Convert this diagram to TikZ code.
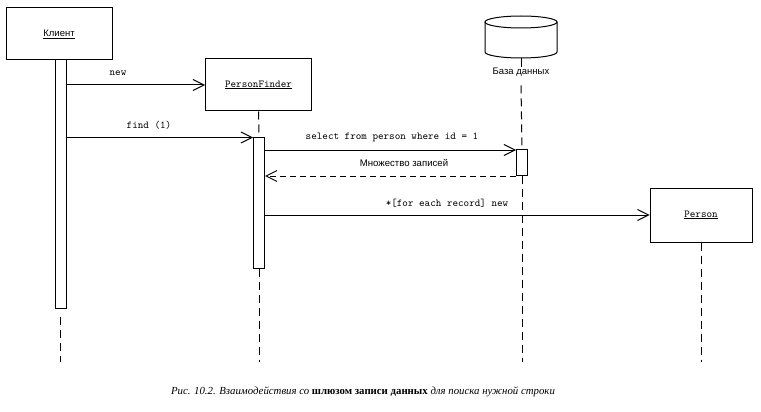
\documentclass[tikz,border=0pt]{standalone}
\usepackage{fontspec}
\setmainfont{Liberation Serif}
\setsansfont{Liberation Sans}
\usetikzlibrary{arrows.meta}
\tikzset{
  obj/.style={draw, line width=1pt, rectangle, inner sep=0pt},
  bar/.style={draw, line width=1pt, fill=white, rectangle, inner sep=0pt, minimum width=11pt},
  life/.style={line width=1pt, dash pattern=on 8pt off 5pt},
  msg/.style={line width=1pt, -{Straight Barb[length=11pt,width=11pt,line width=1pt]}},
  ret/.style={msg, dash pattern=on 6pt off 4pt},
  mlab/.style={font=\ttfamily\fontsize{10.6}{12}\selectfont, inner sep=1pt},
  slab/.style={font=\sffamily\fontsize{9.5}{11}\selectfont, inner sep=1pt},
}
\begin{document}
\begin{tikzpicture}[x=1pt,y=-1pt]
\useasboundingbox (0,0) rectangle (761,412);
% objects
\node[obj, minimum width=106pt, minimum height=52pt] (client) at (59,34)
  {\sffamily\fontsize{9.5}{11}\selectfont\underline{Клиент}};
\node[obj, minimum width=106pt, minimum height=52pt] (pf) at (258.5,85)
  {\ttfamily\fontsize{10.6}{12}\selectfont\underline{PersonFinder}};
\node[obj, minimum width=102pt, minimum height=54pt] (person) at (701,215)
  {\ttfamily\fontsize{10.6}{12}\selectfont\underline{Person}};
% database cylinder
\coordinate (dbtop) at (521,22);
\coordinate (dbbot) at (521,58);
\draw[line width=1pt] (521,22) ellipse [x radius=36, y radius=6];
\draw[line width=1pt] (485,22) -- (485,52) arc[start angle=180, end angle=0, x radius=36, y radius=6] -- (557,22);
\node[slab] (dblab) at (521,72) {База данных};
\draw[line width=1pt] (dbbot) -- (dblab.north);
% activation bars
\node[bar, minimum height=248pt] (cbar) at (60.5,184) {};
\node[bar, minimum height=131pt] (pbar) at (259,202.5) {};
\node[bar, minimum height=26pt] (dbar) at (522,162) {};
% lifelines
\coordinate (cend) at (60.5,362);
\coordinate (pend) at (259,362);
\coordinate (dend) at (522,362);
\coordinate (psend) at (701,362);
\draw[life] ([yshift=-8pt]cbar.south) -- (cend);
\draw[life] (pf.south) -- (pbar.north);
\draw[life] (pbar.south) -- (pend);
\draw[life] ([yshift=-8pt]dblab.south) -- (dbar.north);
\draw[life] (dbar.south) -- (dend);
\draw[life] (person.south) -- (psend);
% messages
\draw[msg] (cbar.east |- 0,85) -- (pf.west |- 0,85);
\node[mlab] (lnew) at (118,73) {new};
\draw[msg] (cbar.east |- 0,137.5) -- (pbar.west |- 0,137.5);
\node[mlab] (lfind) at (149,125) {find (1)};
\draw[msg] (pbar.east |- 0,150) -- (dbar.west |- 0,150);
\node[mlab] (lsel) at (392,137) {select from person where id = 1};
\draw[ret] (dbar.west |- 0,176) -- (pbar.east |- 0,176);
\node[slab, font=\sffamily\fontsize{9.6}{11}\selectfont] (lset) at (404,163) {Множество записей};
\draw[msg] (pbar.east |- 0,215) -- (person.west |- 0,215);
\node[mlab] (lfor) at (447,203) {*[for each record] new};
% caption
\node[font=\fontsize{10.8}{12}\selectfont\itshape] (cap) at (363,392)
  {Рис. 10.2. Взаимодействия со {\upshape\bfseries шлюзом записи данных} для поиска нужной строки};
\end{tikzpicture}
\end{document}
